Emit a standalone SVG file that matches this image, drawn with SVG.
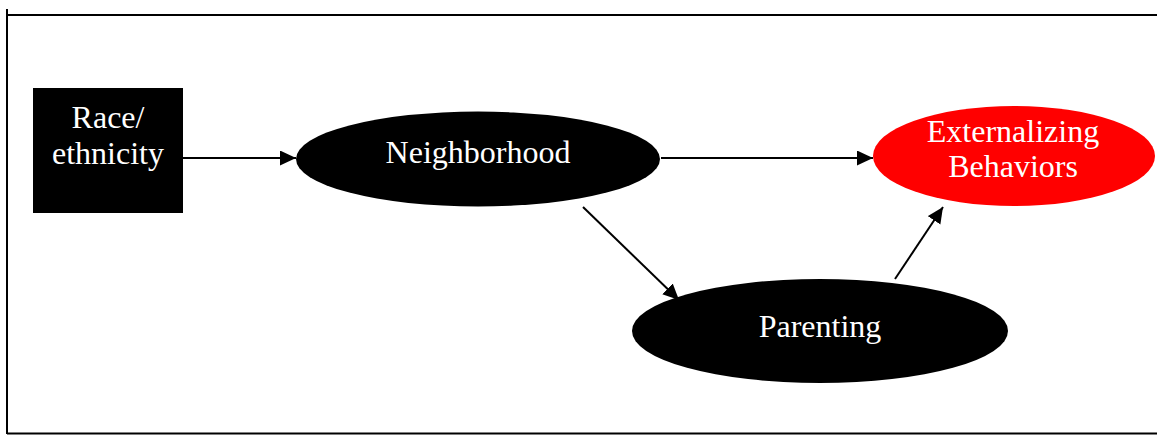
<svg xmlns="http://www.w3.org/2000/svg" width="1157" height="435" viewBox="0 0 1157 435">
<style>
.frame{stroke:#000;stroke-width:2;fill:none}
.edge{stroke:#000;stroke-width:2;fill:none;marker-end:url(#arr)}
.lbl{font-family:"Liberation Serif","Times New Roman",serif;font-size:32px;fill:#fff;text-anchor:middle}
</style>
<defs>
<marker id="arr" markerUnits="userSpaceOnUse" markerWidth="18" markerHeight="16" refX="16" refY="7.5" orient="auto">
<path d="M0,0 L16,7.5 L0,15 Z" fill="#000"/>
</marker>
</defs>
<rect width="1157" height="435" fill="#fff"/>
<g id="frame">
<line class="frame" x1="7" y1="15" x2="1157" y2="15"/>
<line class="frame" x1="7" y1="9" x2="7" y2="434"/>
<line class="frame" x1="7" y1="433.5" x2="1157" y2="433.5"/>
</g>
<g id="connectors">
<line class="edge" x1="183" y1="158" x2="296" y2="158"/>
<line class="edge" x1="661" y1="158" x2="873" y2="158"/>
<line class="edge" x1="583" y1="207" x2="679" y2="300"/>
<line class="edge" x1="895" y1="279" x2="943" y2="207"/>
</g>
<g id="race">
<rect x="33" y="88" width="150" height="125" fill="#000"/>
<text class="lbl" x="108" y="128">Race/</text>
<text class="lbl" x="108" y="164">ethnicity</text>
</g>
<g id="neighborhood">
<ellipse cx="478" cy="159" rx="182" ry="47.5" fill="#000"/>
<text class="lbl" x="478" y="163">Neighborhood</text>
</g>
<g id="externalizing">
<ellipse cx="1014" cy="156" rx="141" ry="50" fill="#f00"/>
<text class="lbl" x="1013" y="142">Externalizing</text>
<text class="lbl" x="1013" y="177">Behaviors</text>
</g>
<g id="parenting">
<ellipse cx="820" cy="331" rx="188" ry="52" fill="#000"/>
<text class="lbl" x="820" y="337">Parenting</text>
</g>
</svg>
